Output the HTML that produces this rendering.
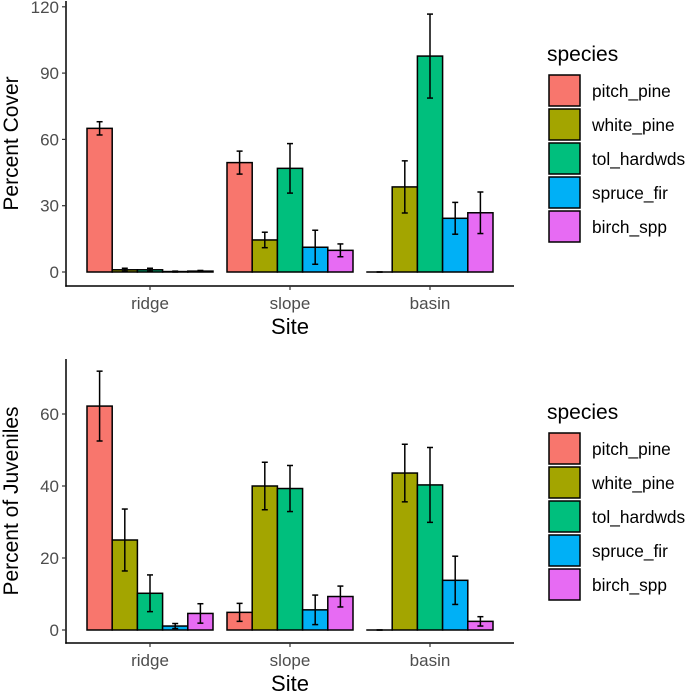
<!DOCTYPE html>
<html><head><meta charset="utf-8"><style>
html,body{margin:0;padding:0;background:#fff;}
svg{display:block;font-family:"Liberation Sans",Arial,sans-serif;}
</style></head><body>
<svg id="chart" width="685" height="691" viewBox="0 0 685 691"></svg>
<script>
const categories = ["ridge","slope","basin"];
const species = ["pitch_pine","white_pine","tol_hardwds","spruce_fir","birch_spp"];
const colors = ["#F8766D","#A3A500","#00BF7D","#00B0F6","#E76BF3"];
// top: percent cover [site][species]
const coverValues = [[65,1,1,0.2,0.4],[49.5,14.5,46.9,11.2,9.8],[0,38.5,97.7,24.3,26.8]];
const coverErrors = [[3,0.7,0.7,0.2,0.3],[5.2,3.5,11.2,7.7,2.9],[0,11.8,19,7.2,9.4]];
const coverTicks = [0,30,60,90,120];
// bottom: percent of juveniles
const juvValues = [[62.2,25,10.2,1.1,4.6],[4.9,40,39.3,5.6,9.3],[0,43.6,40.3,13.8,2.4]];
const juvErrors = [[9.7,8.6,5.1,0.7,2.7],[2.5,6.6,6.4,4.1,2.9],[0,8,10.4,6.7,1.3]];
const juvTicks = [0,20,40,60];

const NS="http://www.w3.org/2000/svg";
const svg=document.getElementById('chart');
function mk(tag,attrs,parent){const e=document.createElementNS(NS,tag);for(const k in attrs)e.setAttribute(k,attrs[k]);(parent||svg).appendChild(e);return e;}

function drawPanel(cfg){
  const g=mk('g',{});
  
  
  const x0=66,x1=514,groupW=140,firstCenter=150;
  const xC=i=>firstCenter+i*groupW;
  const y=v=>cfg.zero-v*cfg.ppu;
  const bw=25.2;
  cfg.values.forEach((row,ci)=>{
    row.forEach((v,si)=>{
      const bx=xC(ci)+(si-2)*bw-bw/2;
      const r=mk('rect',{x:bx,y:y(v),width:bw,height:Math.max(cfg.zero-y(v),0.01),fill:colors[si],stroke:'#000','stroke-width':1.5},g);
      
      
      const e=cfg.errors[ci][si];
      const cx=bx+bw/2;
      const eg=mk('g',{stroke:'#000','stroke-width':1.5},g);
      
      
      mk('line',{x1:cx,x2:cx,y1:y(v-e),y2:y(v+e)},eg);
      mk('line',{x1:cx-3,x2:cx+3,y1:y(v-e),y2:y(v-e)},eg);
      mk('line',{x1:cx-3,x2:cx+3,y1:y(v+e),y2:y(v+e)},eg);
    });
  });
  const ax=mk('line',{x1:x0,x2:x0,y1:cfg.top,y2:cfg.axisY+0.75,stroke:'#000','stroke-width':1.5},g);
  
  const bx=mk('line',{x1:x0-0.75,x2:x1,y1:cfg.axisY,y2:cfg.axisY,stroke:'#000','stroke-width':1.5},g);
  
  cfg.ticks.forEach(t=>{
    mk('line',{x1:x0-4,x2:x0,y1:y(t),y2:y(t),stroke:'#333','stroke-width':1.2},g);
    const tx=mk('text',{x:x0-7,y:y(t)+6,'text-anchor':'end','font-size':17,fill:'#4d4d4d'},g);
    tx.textContent=t;
    
  });
  categories.forEach((c,ci)=>{
    mk('line',{x1:xC(ci),x2:xC(ci),y1:cfg.axisY,y2:cfg.axisY+4,stroke:'#333','stroke-width':1.2},g);
    const tx=mk('text',{x:xC(ci),y:cfg.axisY+23,'text-anchor':'middle','font-size':17,fill:'#4d4d4d'},g);
    tx.textContent=c;
    
  });
  const xt=mk('text',{x:(x0+x1)/2,y:cfg.axisY+48,'text-anchor':'middle','font-size':22,fill:'#000'},g);
  xt.textContent='Site';
  
  const cy=(cfg.top+cfg.axisY)/2;
  const yt=mk('text',{x:0,y:0,transform:`translate(18,${cy}) rotate(-90)`,'text-anchor':'middle','font-size':21,fill:'#000'},g);
  yt.textContent=cfg.ytitle;
  
  const lg=mk('g',{},g);
  
  const lt=mk('text',{x:547,y:cfg.legTop+7,'font-size':21,fill:'#000'},lg);
  lt.textContent='species';
  
  species.forEach((s,si)=>{
    const ky=cfg.legTop+21+si*34;
    const k=mk('rect',{x:549,y:ky,width:31,height:31,fill:colors[si],stroke:'#000','stroke-width':1.5},lg);
    
    const t=mk('text',{x:592,y:ky+22,'font-size':17.3,fill:'#000'},lg);
    t.textContent=s;
    
  });
}
drawPanel({name:'cover-panel',values:coverValues,errors:coverErrors,ticks:coverTicks,zero:272,ppu:2.21,top:1,axisY:286,ytitle:'Percent Cover',legTop:54});
drawPanel({name:'juveniles-panel',values:juvValues,errors:juvErrors,ticks:juvTicks,zero:630,ppu:3.6,top:359,axisY:643,ytitle:'Percent of Juveniles',legTop:412});
</script>
</body></html>
